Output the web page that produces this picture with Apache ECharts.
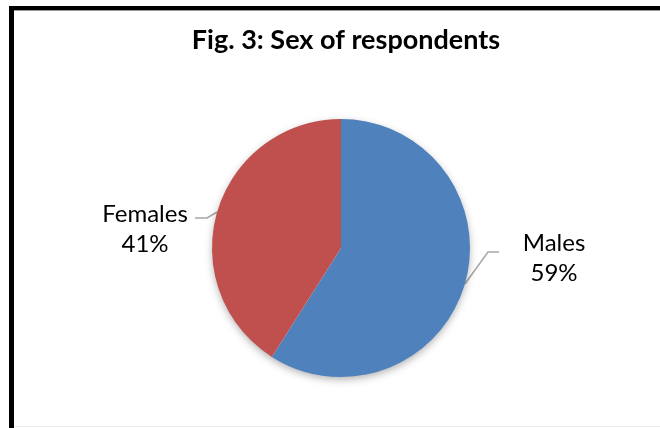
<!DOCTYPE html>
<html>
<head>
<meta charset="utf-8">
<script src="https://cdn.jsdelivr.net/npm/echarts@6/dist/echarts.min.js"></script>
<style>
  html, body { margin: 0; padding: 0; background: #fff; }
  #chart { width: 660px; height: 428px; }
</style>
</head>
<body>
<div id="chart"></div>
<script>
// Respondents by sex (percent)
const categories = ['Males', 'Females'];
const shares = [59, 41];
const sliceColors = ['#4F81BD', '#C0504D'];

const FONT = 'Lato, "Liberation Sans", sans-serif';
const pieCenter = [341, 248];
const pieRadius = 129;

const chart = echarts.init(document.getElementById('chart'), null, { renderer: 'canvas' });

chart.setOption({
  backgroundColor: '#ffffff',
  animation: false,
  title: {
    text: 'Fig. 3: Sex of respondents',
    left: 341,
    top: 22,
    textAlign: 'center',
    textStyle: { fontFamily: FONT, fontWeight: 'bold', fontSize: 27, color: '#000' }
  },
  graphic: [
    // frame: thick dark rule along the top and the left side
    { type: 'rect', shape: { x: 9, y: 6, width: 651, height: 4 }, style: { fill: '#000' }, silent: true },
    { type: 'rect', shape: { x: 9, y: 10, width: 651, height: 1 }, style: { fill: '#9a9a9a' }, silent: true },
    { type: 'rect', shape: { x: 9, y: 6, width: 5, height: 422 }, style: { fill: '#000' }, silent: true },
    { type: 'rect', shape: { x: 14, y: 426, width: 646, height: 1 }, style: { fill: '#ececec' }, silent: true }
  ],
  series: [
    {
      // soft drop shadow beneath the whole pie
      type: 'pie',
      silent: true,
      center: pieCenter,
      radius: pieRadius - 1,
      label: { show: false },
      labelLine: { show: false },
      itemStyle: {
        color: '#ffffff',
        shadowBlur: 9,
        shadowOffsetY: 3,
        shadowColor: 'rgba(0,0,0,0.35)'
      },
      data: [{ value: 1, name: '' }]
    },
    {
      type: 'pie',
      center: pieCenter,
      radius: pieRadius,
      startAngle: 90,
      clockwise: true,
      itemStyle: { borderWidth: 0 },
      label: {
        show: true,
        position: 'outside',
        formatter: '{b}\n{d}%',
        fontFamily: FONT,
        fontSize: 24,
        lineHeight: 30,
        color: '#000',
        align: 'center'
      },
      labelLine: {
        show: true,
        lineStyle: { color: '#a6a6a6', width: 1.5 }
      },
      labelLayout: function (p) {
        const edge = p.labelLinePoints ? p.labelLinePoints[0] : null;
        if (p.dataIndex === 0) {
          return {
            x: 554, y: 258, align: 'center', verticalAlign: 'middle',
            labelLinePoints: edge ? [edge, [488, 252], [499, 252]] : undefined
          };
        }
        return {
          x: 145, y: 229, align: 'center', verticalAlign: 'middle',
          labelLinePoints: edge ? [edge, [207, 218], [195, 218]] : undefined
        };
      },
      data: categories.map((name, i) => ({
        name: name,
        value: shares[i],
        itemStyle: { color: sliceColors[i] }
      }))
    }
  ]
});
</script>
</body>
</html>
